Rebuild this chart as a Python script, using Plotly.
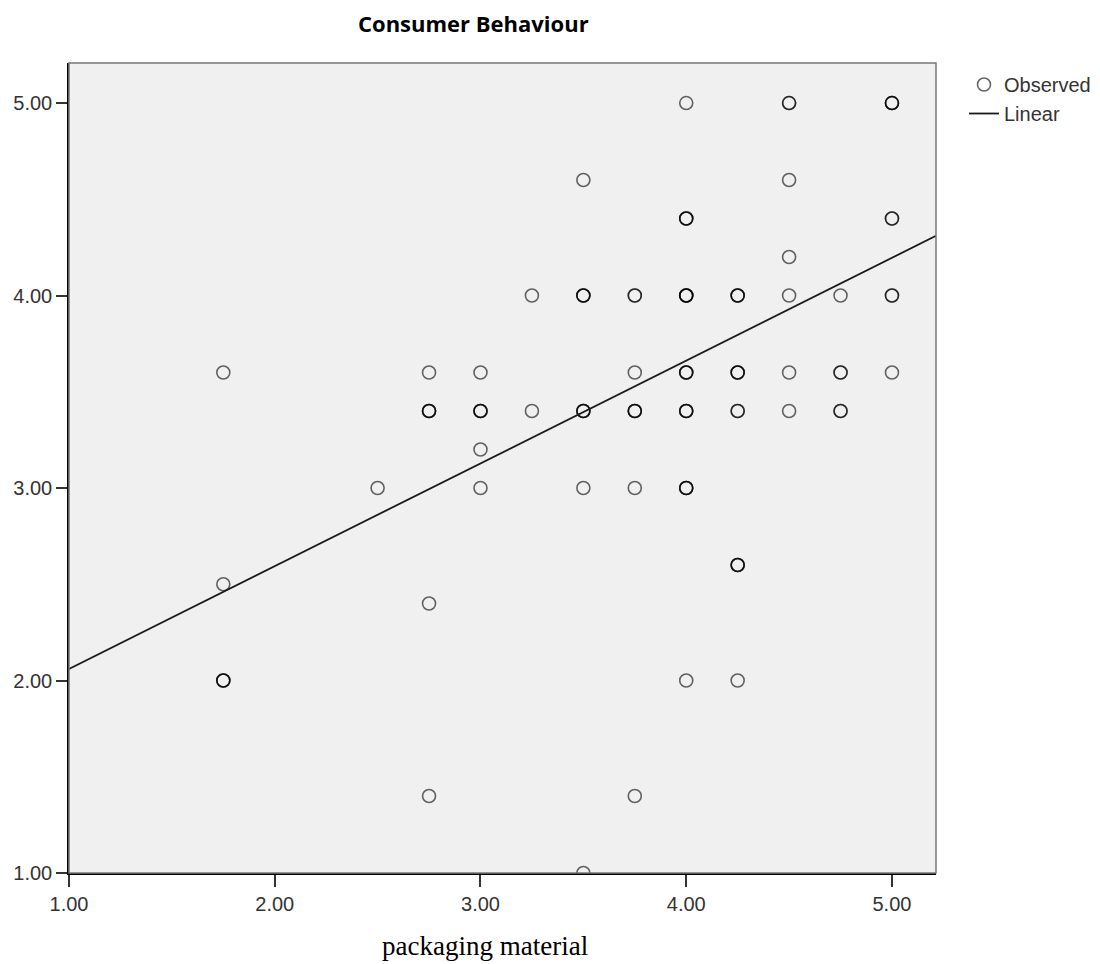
import plotly.graph_objects as go

# Observed points: x value, y value, number of overlapping observations
obs_x = [1.75, 1.75, 1.75,
         2.5,
         2.75, 2.75, 2.75, 2.75,
         3.0, 3.0, 3.0, 3.0,
         3.25, 3.25,
         3.5, 3.5, 3.5, 3.5, 3.5,
         3.75, 3.75, 3.75, 3.75, 3.75,
         4.0, 4.0, 4.0, 4.0, 4.0, 4.0, 4.0,
         4.25, 4.25, 4.25, 4.25, 4.25,
         4.5, 4.5, 4.5, 4.5, 4.5, 4.5,
         4.75, 4.75, 4.75,
         5.0, 5.0, 5.0, 5.0]
obs_y = [3.6, 2.5, 2.0,
         3.0,
         3.6, 3.4, 2.4, 1.4,
         3.6, 3.4, 3.2, 3.0,
         4.0, 3.4,
         4.6, 4.0, 3.4, 3.0, 1.0,
         4.0, 3.6, 3.4, 3.0, 1.4,
         5.0, 4.4, 4.0, 3.6, 3.4, 3.0, 2.0,
         4.0, 3.6, 3.4, 2.6, 2.0,
         5.0, 4.6, 4.2, 4.0, 3.6, 3.4,
         4.0, 3.6, 3.4,
         5.0, 4.4, 4.0, 3.6]
obs_n = [1, 1, 3,
         1,
         1, 3, 1, 1,
         1, 3, 1, 1,
         1, 1,
         1, 3, 3, 1, 1,
         2, 1, 3, 1, 1,
         1, 3, 4, 3, 3, 3, 1,
         3, 3, 2, 3, 1,
         2, 1, 1, 1, 1, 1,
         1, 2, 2,
         3, 2, 2, 1]

# Linear fit
fit_intercept = 1.526
fit_slope = 0.534

x_range = [1.0, 5.214]
y_range = [1.0, 5.208]
tick_vals = [1, 2, 3, 4, 5]
tick_text = ["1.00", "2.00", "3.00", "4.00", "5.00"]

px_all, py_all = [], []
for xv, yv, n in zip(obs_x, obs_y, obs_n):
    px_all += [xv] * n
    py_all += [yv] * n

fit_x = x_range
fit_y = [fit_intercept + fit_slope * v for v in fit_x]

fig = go.Figure()
fig.add_trace(go.Scatter(
    x=px_all, y=py_all, mode="markers", name="Observed",
    marker=dict(symbol="circle-open", size=13, color="rgba(0,0,0,0.6)",
                line=dict(width=1.6)),
))
fig.add_trace(go.Scatter(
    x=fit_x, y=fit_y, mode="lines", name="Linear",
    line=dict(color="#1a1a1a", width=1.8),
))

axis_font = dict(family="Liberation Sans, Arial, sans-serif", size=20, color="#333333")

W, H = 1092, 956
fig.update_layout(
    width=W, height=H,
    margin=dict(l=61, r=164, t=55, b=91, autoexpand=False),
    paper_bgcolor="white",
    plot_bgcolor="#f0f0f0",
    showlegend=True,
    legend=dict(xref="container", yref="container", x=956 / W, y=1 - 57 / H,
                xanchor="left", yanchor="top",
                font=dict(family="Liberation Sans, Arial, sans-serif", size=20, color="#333333"),
                bgcolor="rgba(0,0,0,0)", tracegroupgap=0, itemwidth=30),
    xaxis=dict(range=x_range, tickvals=tick_vals, ticktext=tick_text, automargin=False,
               showgrid=False, zeroline=False, showline=True, linecolor="black",
               linewidth=1.5, ticks="outside", ticklen=12, tickwidth=1.5,
               tickcolor="#333", tickfont=axis_font),
    yaxis=dict(range=y_range, tickvals=tick_vals, ticktext=tick_text, automargin=False,
               showgrid=False, zeroline=False, showline=True, linecolor="black",
               linewidth=1.5, ticks="outside", ticklen=11, tickwidth=1.5,
               tickcolor="#333", tickfont=axis_font),
    shapes=[dict(type="rect", xref="x domain", yref="y domain", x0=0, x1=1, y0=0, y1=1,
                 line=dict(color="#777777", width=1.5), layer="above")],
    annotations=[
        dict(text="<b>Consumer Behaviour</b>", xref="paper", yref="paper",
             x=404 / 867, y=1 + (55 - 15) / 810, xanchor="center", yanchor="middle",
             showarrow=False, font=dict(family="Open Sans, Noto Sans, sans-serif", size=22, color="black")),
        dict(text="packaging material", xref="paper", yref="paper",
             x=416 / 867, y=-(938 - 865) / 810, xanchor="center", yanchor="middle",
             showarrow=False, font=dict(family="Liberation Serif, Times New Roman, serif", size=27, color="black")),
    ],
)

fig.write_html("out.html")
